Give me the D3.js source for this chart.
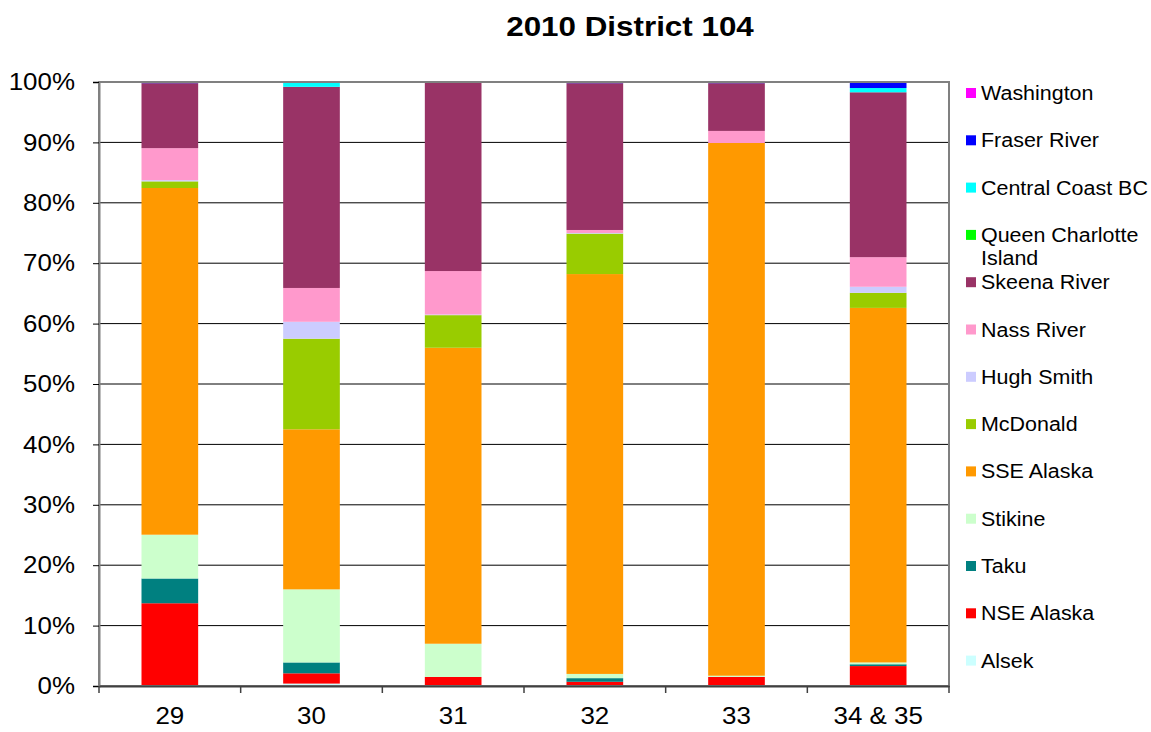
<!DOCTYPE html>
<html lang="en">
<head>
   <meta charset="UTF-8">
   <title>2010 District 104</title>
   <script src="https://cdn.jsdelivr.net/npm/d3@7"></script>
   <style>
       body { margin: 0; background: #fff; }
       text { font-family: "Liberation Sans", Arial, sans-serif; fill: #000; }
   </style>
</head>
<body>
   <svg width="1151" height="732"></svg>
   <script>
       // categories (x axis)
       const categories = ["29", "30", "31", "32", "33", "34 & 35"];

       // percentage of each stock per category, stacked bottom -> top
       const alsek       = [0,     0.4,  0,    0.1,  0,    0.1];
       const nseAlaska   = [13.7,  1.7,  1.5,  0.6,  1.5,  3.2];
       const taku        = [4.1,   1.8,  0,    0.6,  0,    0.3];
       const stikine     = [7.25, 12.1,  5.5,  0.7,  0.2,  0.3];
       const sseAlaska   = [57.4, 26.5, 49.0, 66.2, 88.2, 58.7];
       const mcdonald    = [1.1,  15.0,  5.4,  6.7,  0,    2.5];
       const hughSmith   = [0.2,   2.8,  0.1,  0.1,  0,    1.0];
       const nassRiver   = [5.3,   5.6,  7.2,  0.5,  2.0,  4.9];
       const skeenaRiver = [10.75,33.3, 31.2, 24.3,  7.9, 27.3];
       const queenCharl  = [0,     0,    0,    0,    0,    0];
       const centralBC   = [0,     0.7,  0,    0,    0,    0.7];
       const fraserRiver = [0.2,   0.1,  0.1,  0.2,  0.2,  1.0];
       const washington  = [0,     0,    0.1,  0,    0,    0];

       const seriesNames = ["Alsek", "NSE Alaska", "Taku", "Stikine", "SSE Alaska", "McDonald",
           "Hugh Smith", "Nass River", "Skeena River", "Queen Charlotte Island",
           "Central Coast BC", "Fraser River", "Washington"];
       const seriesValues = [alsek, nseAlaska, taku, stikine, sseAlaska, mcdonald, hughSmith,
           nassRiver, skeenaRiver, queenCharl, centralBC, fraserRiver, washington];
       const seriesColors = ["#CCFFFF", "#FF0000", "#008080", "#CCFFCC", "#FF9900", "#99CC00",
           "#CCCCFF", "#FF99CC", "#993366", "#00FF00", "#00FFFF", "#0000FF", "#FF00FF"];

       const yTicks = [0, 10, 20, 30, 40, 50, 60, 70, 80, 90, 100];

       // build rows for d3.stack
       const rows = categories.map((c, i) => {
           const r = { cat: c };
           seriesNames.forEach((s, j) => { r[s] = seriesValues[j][i]; });
           return r;
       });
       const stacked = d3.stack().keys(seriesNames)(rows);

       const svg = d3.select("svg");
       const plotL = 99, plotR = 949, plotT = 82, plotB = 686;

       const x = d3.scaleBand().domain(categories).range([plotL, plotR]).paddingInner(0.6).paddingOuter(0.3);
       const xb = d3.scaleBand().domain(categories).range([plotL, plotR]);
       const y = d3.scaleLinear().domain([0, 100]).range([plotB, plotT]);

       // the original picture is a bit wider than tall, so stretch text horizontally
       function stretch(sel, k) {
           sel.each(function () {
               const w = this.getComputedTextLength();
               d3.select(this).attr("textLength", w * k).attr("lengthAdjust", "spacingAndGlyphs");
           });
       }

       // title
       svg.append("text")
           .attr("x", 630).attr("y", 36)
           .attr("text-anchor", "middle")
           .attr("font-size", 28).attr("font-weight", "bold")
           .text("2010 District 104")
           .call(stretch, 1.12);

       // gridlines
       svg.append("g")
           .selectAll("line")
           .data(yTicks.slice(1, -1))
           .join("line")
           .attr("x1", plotL).attr("x2", plotR)
           .attr("y1", d => y(d)).attr("y2", d => y(d))
           .attr("stroke", "#000").attr("stroke-width", 1);

       // bars
       svg.append("g")
           .selectAll("g")
           .data(stacked)
           .join("g")
           .attr("fill", (d, i) => seriesColors[i])
           .selectAll("rect")
           .data(d => d)
           .join("rect")
           .attr("x", d => x(d.data.cat))
           .attr("width", x.bandwidth())
           .attr("y", d => y(d[1]))
           .attr("height", d => y(d[0]) - y(d[1]));

       // plot frame
       svg.append("rect")
           .attr("x", plotL).attr("y", plotT)
           .attr("width", plotR - plotL).attr("height", plotB - plotT)
           .attr("fill", "none").attr("stroke", "#808080").attr("stroke-width", 2);

       // y axis
       const yAxis = svg.append("g")
           .attr("transform", `translate(${plotL},0)`)
           .call(d3.axisLeft(y).tickValues(yTicks).tickFormat(d => d + "%").tickSize(6).tickPadding(18));
       yAxis.select(".domain").attr("stroke", "#808080").attr("stroke-width", 2);
       yAxis.selectAll(".tick line").attr("stroke", "#000");
       yAxis.selectAll("text").attr("font-size", 24).attr("font-family", "Liberation Sans, Arial, sans-serif").attr("fill", "#000")
           .call(stretch, 1.08);

       // x axis
       const xAxis = svg.append("g")
           .attr("transform", `translate(0,${plotB})`)
           .call(d3.axisBottom(xb).tickSize(0).tickPadding(21));
       xAxis.select(".domain").attr("stroke", "#404040").attr("stroke-width", 2);
       xAxis.selectAll("text").attr("font-size", 24).attr("font-family", "Liberation Sans, Arial, sans-serif").attr("fill", "#000")
           .call(stretch, 1.08);
       // tick marks between categories
       svg.append("g")
           .selectAll("line")
           .data(categories)
           .join("line")
           .attr("x1", d => xb(d)).attr("x2", d => xb(d))
           .attr("y1", plotB).attr("y2", plotB + 7)
           .attr("stroke", "#404040").attr("stroke-width", 1.5);
       svg.append("line")
           .attr("x1", plotR).attr("x2", plotR).attr("y1", plotB).attr("y2", plotB + 7)
           .attr("stroke", "#404040").attr("stroke-width", 1.5);

       // legend (top -> bottom is reverse of stack order)
       const legendItems = seriesNames.map((s, i) => ({ name: s, color: seriesColors[i] })).reverse();
       const lg = svg.append("g").attr("transform", "translate(966,93)");
       const item = lg.selectAll("g")
           .data(legendItems)
           .join("g")
           .attr("transform", (d, i) => `translate(0,${i * 47.3})`);
       item.append("rect")
           .attr("x", 0).attr("y", -5)
           .attr("width", 10).attr("height", 10)
           .attr("fill", d => d.color);
       item.append("text")
           .attr("x", 15).attr("y", 7)
           .attr("font-size", 19.5)
           .each(function (d) {
               const t = d3.select(this);
               if (d.name === "Queen Charlotte Island") {
                   t.append("tspan").attr("x", 15).text("Queen Charlotte");
                   t.append("tspan").attr("x", 15).attr("dy", 23).text("Island");
               } else {
                   t.text(d.name);
               }
           });
       item.selectAll("text").filter(d => d.name !== "Queen Charlotte Island").call(stretch, 1.1);
       item.selectAll("tspan").each(function () {
           const w = this.getComputedTextLength();
           d3.select(this).attr("textLength", w * 1.1).attr("lengthAdjust", "spacingAndGlyphs");
       });
   </script>
</body>
</html>
